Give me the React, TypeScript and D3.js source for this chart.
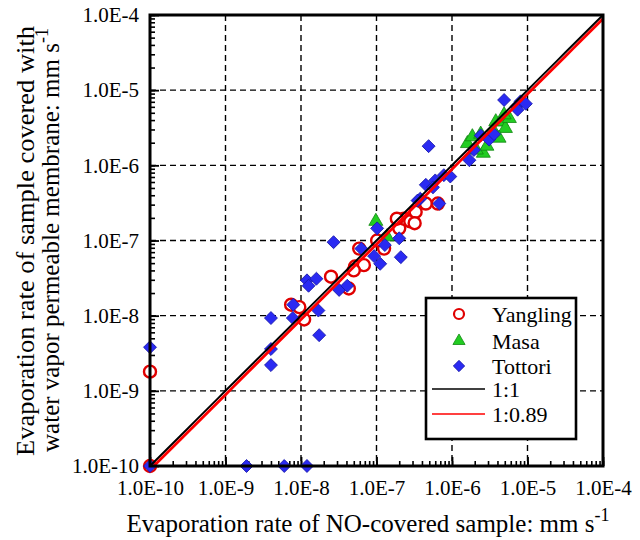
import { useRef, useEffect } from 'react';
import * as d3 from 'd3';

// values (mm s-1)
const yanglingX = [1e-10, 1e-10, 7.4e-9, 9.5e-9, 1.1e-8, 2.5e-8, 4.3e-8, 5.2e-8, 5.9e-8, 6.8e-8, 5.0e-8, 1.26e-7, 1.02e-7, 2.0e-7, 2.3e-7, 2.8e-7, 3.3e-7, 4.5e-7, 6.5e-7, 3.2e-7, 1.86e-7];
const yanglingY = [1.8e-9, 1e-10, 1.4e-8, 1.3e-8, 8.9e-9, 3.3e-8, 2.3e-8, 4.5e-8, 7.8e-8, 4.7e-8, 4.0e-8, 7.8e-8, 1.0e-7, 1.45e-7, 1.95e-7, 1.8e-7, 2.4e-7, 3.1e-7, 3.1e-7, 1.7e-7, 1.95e-7];

const masaX = [9.8e-8, 1.38e-7, 1.6e-6, 1.86e-6, 2.4e-6, 2.6e-6, 2.9e-6, 3.5e-6, 3.8e-6, 4.5e-6, 5.1e-6, 5.75e-6, 4.2e-6, 2.1e-6, 4.9e-6];
const masaY = [1.8e-7, 1.12e-7, 1.95e-6, 2.4e-6, 2.6e-6, 1.45e-6, 1.8e-6, 2.95e-6, 3.8e-6, 3.8e-6, 3.1e-6, 4.2e-6, 2.3e-6, 1.6e-6, 4.7e-6];

const tottoriX = [1e-10, 1e-10, 1.9e-9, 6.0e-9, 1.2e-8, 4.0e-9, 4.0e-9, 4.0e-9, 7.8e-9, 7.9e-9, 1.2e-8, 1.26e-8, 1.6e-8, 1.7e-8, 1.74e-8, 2.7e-8, 3.2e-8, 4.1e-8, 6.3e-8, 9.3e-8, 1.12e-7, 1.02e-7, 1.29e-7, 2.0e-7, 2.1e-7, 4.9e-7, 4.5e-7, 3.8e-7, 6.0e-7, 7.8e-7, 9.5e-7, 6.8e-7, 1.7e-6, 1.95e-6, 3.1e-6, 3.6e-6, 4.9e-6, 7.1e-6, 8.1e-6, 9.5e-6, 7.4e-6, 2.4e-6, 3.5e-7, 5.6e-7];
const tottoriY = [1e-10, 3.8e-9, 1e-10, 1e-10, 1e-10, 9.3e-9, 3.6e-9, 2.2e-9, 9.3e-9, 1.4e-8, 2.95e-8, 2.5e-8, 3.1e-8, 1.17e-8, 5.5e-9, 9.5e-8, 2.2e-8, 2.5e-8, 7.8e-8, 6.2e-8, 4.9e-8, 1.45e-7, 8.7e-8, 1.07e-7, 6.0e-8, 1.8e-6, 5.5e-7, 3.6e-7, 6.3e-7, 7.4e-7, 7.1e-7, 3.1e-7, 1.17e-6, 1.6e-6, 2.2e-6, 2.6e-6, 7.4e-6, 6.0e-6, 7.1e-6, 6.6e-6, 5.5e-6, 2.5e-6, 3.4e-7, 5.1e-7];

const lineDomain = [1e-10, 1e-4];
const fitSlope = 0.89;
const decades = [1e-10, 1e-9, 1e-8, 1e-7, 1e-6, 1e-5, 1e-4];
const legendLabels = ['Yangling', 'Masa', 'Tottori', '1:1', '1:0.89'];

const FONT = "Liberation Serif, Tinos, Times New Roman, DejaVu Serif, serif";

export default function App() {
  const svgRef = useRef(null);

  useEffect(() => {
    const width = 640, height = 540;
    const left = 150, right = 603, top = 15, bottom = 466;

    const svg = d3.select(svgRef.current);
    svg.selectAll('*').remove();
    svg.attr('width', width).attr('height', height).style('font-family', FONT);

    const x = d3.scaleLog().domain([1e-10, 1e-4]).range([left, right]);
    const y = d3.scaleLog().domain([1e-10, 1e-4]).range([bottom, top]);

    svg.append('rect').attr('width', width).attr('height', height).attr('fill', '#fff');

    svg.append('clipPath').attr('id', 'plotclip')
      .append('rect').attr('x', left).attr('y', top - 2).attr('width', right - left + 2).attr('height', bottom - top + 2);

    // dashed grid
    const grid = svg.append('g').attr('stroke', '#000').attr('stroke-width', 1.4).attr('stroke-dasharray', '6,4');
    decades.slice(1, -1).forEach(d => {
      grid.append('line').attr('x1', x(d)).attr('x2', x(d)).attr('y1', top).attr('y2', bottom);
      grid.append('line').attr('y1', y(d)).attr('y2', y(d)).attr('x1', left).attr('x2', right);
    });

    // minor ticks (inside)
    const minor = x.ticks();
    const xMinor = svg.append('g').attr('transform', `translate(0,${bottom})`)
      .call(d3.axisBottom(x).tickValues(minor).tickSizeInner(-5).tickSizeOuter(0).tickFormat(() => ''));
    const yMinor = svg.append('g').attr('transform', `translate(${left},0)`)
      .call(d3.axisLeft(y).tickValues(minor).tickSizeInner(-5).tickSizeOuter(0).tickFormat(() => ''));
    [xMinor, yMinor].forEach(g => { g.select('.domain').remove(); g.selectAll('line').attr('stroke-width', 1.6); });

    const fmt = d => `1.0E${Math.round(Math.log10(d))}`;
    const xMajor = svg.append('g').attr('transform', `translate(0,${bottom})`)
      .call(d3.axisBottom(x).tickValues(decades).tickSizeInner(-9).tickSizeOuter(0).tickPadding(14).tickFormat(fmt));
    const yMajor = svg.append('g').attr('transform', `translate(${left},0)`)
      .call(d3.axisLeft(y).tickValues(decades).tickSizeInner(-9).tickSizeOuter(0).tickPadding(11).tickFormat(fmt));
    [xMajor, yMajor].forEach(g => {
      g.select('.domain').remove();
      g.attr('font-family', null).attr('font-size', null);
      g.selectAll('line').attr('stroke-width', 1.8);
      g.selectAll('text').attr('font-family', FONT).attr('font-size', 21).attr('fill', '#000');
    });

    const marks = svg.append('g');

    // Yangling circles
    marks.selectAll('circle.yl').data(yanglingX.map((v, i) => [v, yanglingY[i]])).enter()
      .append('circle').attr('class', 'yl')
      .attr('cx', d => x(d[0])).attr('cy', d => y(d[1])).attr('r', 6)
      .attr('fill', '#fff').attr('stroke', '#e00000').attr('stroke-width', 2.4);

    // Masa triangles
    const tri = d3.symbol().type(d3.symbolTriangle).size(85);
    marks.selectAll('path.ms').data(masaX.map((v, i) => [v, masaY[i]])).enter()
      .append('path').attr('class', 'ms')
      .attr('d', tri).attr('transform', d => `translate(${x(d[0])},${y(d[1])})`)
      .attr('fill', '#22cc22').attr('stroke', '#118811').attr('stroke-width', 0.8);

    // Tottori diamonds
    const dia = d3.symbol().type(d3.symbolSquare).size(84);
    marks.selectAll('path.tt').data(tottoriX.map((v, i) => [v, tottoriY[i]])).enter()
      .append('path').attr('class', 'tt')
      .attr('d', dia).attr('transform', d => `translate(${x(d[0])},${y(d[1])}) rotate(45)`)
      .attr('fill', '#2a2af2').attr('stroke', '#1818a8').attr('stroke-width', 0.8);

    // 1:1 and fitted lines
    const line = d3.line().x(d => x(d[0])).y(d => y(d[1]));
    const lineX = d3.range(0, 61).map(i => lineDomain[0] * Math.pow(10, i / 10));
    svg.append('path').attr('clip-path', 'url(#plotclip)')
      .attr('d', line(lineX.map(v => [v, v]))).attr('fill', 'none').attr('stroke', '#000').attr('stroke-width', 2);
    svg.append('path').attr('clip-path', 'url(#plotclip)')
      .attr('d', line(lineX.map(v => [v, v * fitSlope]))).attr('fill', 'none').attr('stroke', '#ff0000').attr('stroke-width', 2.8);

    // frame
    svg.append('rect').attr('x', left).attr('y', top).attr('width', right - left).attr('height', bottom - top)
      .attr('fill', 'none').attr('stroke', '#000').attr('stroke-width', 3);

    // legend
    const lg = svg.append('g');
    lg.append('rect').attr('x', 426).attr('y', 298).attr('width', 150).attr('height', 141)
      .attr('fill', '#fff').attr('stroke', '#000').attr('stroke-width', 2.6);
    const rowY = [314, 341, 366, 389, 414];
    lg.append('circle').attr('cx', 459).attr('cy', rowY[0]).attr('r', 5)
      .attr('fill', '#fff').attr('stroke', '#e00000').attr('stroke-width', 2.2);
    lg.append('path').attr('d', d3.symbol().type(d3.symbolTriangle).size(64)())
      .attr('transform', `translate(459,${rowY[1]})`).attr('fill', '#22cc22').attr('stroke', '#118811').attr('stroke-width', 0.8);
    lg.append('path').attr('d', d3.symbol().type(d3.symbolSquare).size(64)())
      .attr('transform', `translate(459,${rowY[2]}) rotate(45)`).attr('fill', '#2a2af2').attr('stroke', '#1818a8').attr('stroke-width', 0.8);
    lg.append('line').attr('x1', 432).attr('x2', 485).attr('y1', rowY[3]).attr('y2', rowY[3]).attr('stroke', '#000').attr('stroke-width', 1.6);
    lg.append('line').attr('x1', 432).attr('x2', 485).attr('y1', rowY[4]).attr('y2', rowY[4]).attr('stroke', '#ff0000').attr('stroke-width', 1.6);
    legendLabels.forEach((t, i) => {
      lg.append('text').attr('x', 492).attr('y', rowY[i] + 8).attr('font-family', FONT).attr('font-size', 22)
        .attr('fill', '#000').text(t);
    });

    // axis titles
    const xt = svg.append('text').attr('x', 368).attr('y', 532).attr('text-anchor', 'middle')
      .attr('font-family', FONT).attr('font-size', 25).attr('fill', '#000');
    xt.append('tspan').text('Evaporation rate of NO-covered sample: mm s');
    xt.append('tspan').attr('dy', -11).attr('font-size', 18).text('-1');

    const yt1 = svg.append('text').attr('transform', 'translate(34,241) rotate(-90)').attr('text-anchor', 'middle')
      .attr('font-family', FONT).attr('font-size', 25).attr('fill', '#000')
      .attr('textLength', 430).attr('lengthAdjust', 'spacingAndGlyphs');
    yt1.text('Evaporation rate of sample covered with');
    const yt2 = svg.append('text').attr('transform', 'translate(59,240) rotate(-90)').attr('text-anchor', 'middle')
      .attr('font-family', FONT).attr('font-size', 25).attr('fill', '#000');
    yt2.append('tspan').text('water vapor permeable membrane: mm s');
    yt2.append('tspan').attr('dy', -11).attr('font-size', 18).text('-1');
  }, []);

  return (
    <svg ref={svgRef} style={{ position: 'absolute', left: 0, top: 0 }} />
  );
}
